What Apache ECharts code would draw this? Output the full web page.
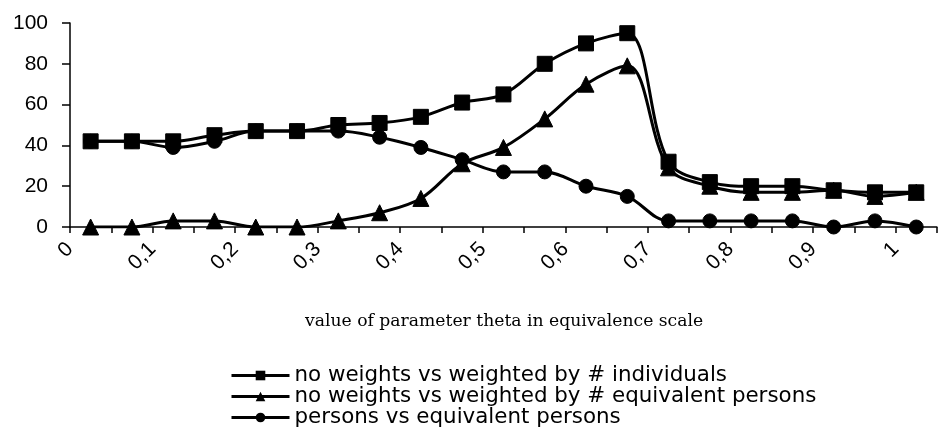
<!DOCTYPE html>
<html>
<head>
<meta charset="utf-8">
<script src="https://cdn.jsdelivr.net/npm/echarts@6/dist/echarts.min.js"></script>
<style>
html,body{margin:0;padding:0;background:#fff;}
#main{width:939px;height:427px;}
</style>
</head>
<body>
<div id="main"></div>
<script>
// theta values of the points (they sit between the axis ticks)
var thetas = [0.025,0.075,0.125,0.175,0.225,0.275,0.325,0.375,0.425,0.475,0.525,0.575,0.625,0.675,0.725,0.775,0.825,0.875,0.925,0.975,1.025];
var tickLabels = ['0','0,1','0,2','0,3','0,4','0,5','0,6','0,7','0,8','0,9','1'];
var yTicks = [0,20,40,60,80,100];

var individuals = [42,42,42,45,47,47,50,51,54,61,65,80,90,95,32,22,20,20,18,17,17];
var equivalent  = [0,0,3,3,0,0,3,7,14,31,39,53,70,79,29,20,17,17,18,15,17];
var persons     = [42,42,39,42,47,47,47,44,39,33,27,27,20,15,3,3,3,3,0,3,0];

var names = [
	'no weights vs weighted by # individuals',
	'no weights vs weighted by # equivalent persons',
	'persons vs equivalent persons'
];

function pairs(vals){
	var out = [];
	for (var i = 0; i < vals.length; i++) out.push([thetas[i], vals[i]]);
	return out;
}

window.onload = function(){
	var myChart = echarts.init(document.getElementById('main'));
	var sans = 'Liberation Sans';
	function line(name, vals, symbol, size, z){
		return {
			name: name,
			type: 'line',
			smooth: 0.35,
			z: z,
			symbol: symbol,
			symbolSize: size,
			lineStyle: {color: '#000', width: 3},
			itemStyle: {color: '#000', borderColor: '#000'},
			emphasis: {disabled: true},
			data: pairs(vals)
		};
	}
	myChart.setOption({
		animation: false,
		backgroundColor: '#fff',
		title: {
			text: 'value of parameter theta in equivalence scale',
			left: 305,
			top: 313,
			padding: 0,
			textStyle: {fontFamily: 'DejaVu Serif', fontSize: 17.2, fontWeight: 'normal', color: '#000'}
		},
		legend: {
			orient: 'vertical',
			left: 230,
			top: 365,
			height: 120,
			padding: 0,
			itemWidth: 58,
			itemHeight: 12,
			itemGap: 0,
			lineStyle: {width: 3},
			data: names,
			textStyle: {fontFamily: 'DejaVu Sans', fontSize: 21.4, color: '#000', lineHeight: 19}
		},
		grid: {left: 70, right: -1, top: 23, bottom: 200},
		xAxis: {
			type: 'value',
			min: 0,
			max: 1.05,
			interval: 0.05,
			splitLine: {show: false},
			axisLine: {lineStyle: {color: '#000', width: 1.5}},
			axisTick: {length: 6, lineStyle: {color: '#000', width: 1.5}},
			axisLabel: {
				rotate: 45,
				margin: 19,
				color: '#000',
				fontFamily: sans,
				fontSize: 21,
				showMaxLabel: true,
				formatter: function(v){
					var k = Math.round(v * 20);
					return k % 2 === 0 ? (tickLabels[k / 2] || '') : '';
				}
			}
		},
		yAxis: {
			type: 'value',
			min: yTicks[0],
			max: yTicks[yTicks.length - 1],
			interval: 20,
			splitLine: {show: false},
			axisLine: {show: true, lineStyle: {color: '#000', width: 1.5}},
			axisTick: {show: true, length: 8, lineStyle: {color: '#000', width: 1.5}},
			axisLabel: {color: '#000', fontFamily: sans, fontSize: 21, margin: 22}
		},
		series: [
			line(names[0], individuals, 'rect', 15, 4),
			line(names[1], equivalent, 'triangle', 16, 3),
			line(names[2], persons, 'circle', 14, 2)
		]
	});
};
</script>
</body>
</html>
